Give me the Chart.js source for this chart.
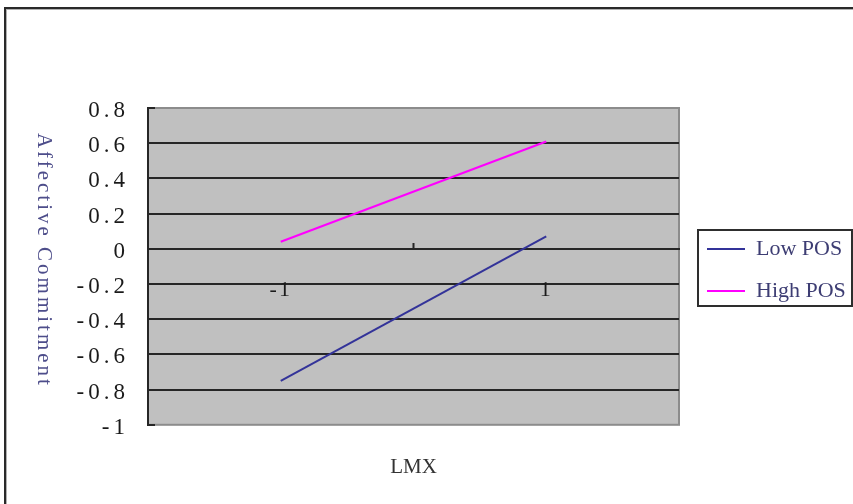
<!DOCTYPE html>
<html>
<head>
<meta charset="utf-8">
<script src="https://cdn.jsdelivr.net/npm/chart.js@4"></script>
<style>
  html, body { margin: 0; padding: 0; background: #ffffff; }
  #wrap { position: relative; width: 853px; height: 504px; overflow: hidden; background: #ffffff; }
  #frame { position: absolute; left: 4px; top: 7px; width: 1000px; height: 1000px;
           border: 2px solid #2a2a2a; box-shadow: inset 1px 1px 0 #b0b0b0; }
  #c { position: absolute; left: 0; top: 0; }
</style>
</head>
<body>
<div id="wrap">
  <div id="frame"></div>
  <canvas id="c" width="853" height="504"></canvas>
</div>
<script>
// ---- data ----
const categories = ['-1', '1'];
const seriesNames = ['Low POS', 'High POS'];
const lowPOS = [-0.75, 0.07];
const highPOS = [0.04, 0.61];
const yTickValues = [-1, -0.8, -0.6, -0.4, -0.2, 0, 0.2, 0.4, 0.6, 0.8];
const yTickLabels = ['-1', '-0.8', '-0.6', '-0.4', '-0.2', '0', '0.2', '0.4', '0.6', '0.8'];
const xTitle = 'LMX';
const yTitle = 'Affective Commitment';

const SERIF = "'Liberation Serif', 'Times New Roman', serif";
const DARK = '#262626';

const layoutPlugin = {
  id: 'excelLook',
  beforeLayout(chart) {
    const lg = chart.legend;
    if (lg && !lg._patched) {
      const fit = lg.fit;
      lg.fit = function () { fit.call(this); this.width = 174; };
      lg._patched = true;
    }
  },
  afterLayout(chart) {
    const lg = chart.legend;
    if (lg) { lg.left = 687; lg.right = lg.left + 166; lg.top = 218; }
    const ys = chart.scales.y, xs = chart.scales.x;
    if (ys && !ys._spaced) {
      const d = ys.drawLabels;
      ys.drawLabels = function (a) { const c = this.ctx; c.save(); c.letterSpacing = '4px'; d.call(this, a); c.restore(); };
      ys._spaced = true;
    }
    if (xs && !xs._spaced) {
      const d = xs.drawLabels;
      xs.drawLabels = function (a) { const c = this.ctx; c.save(); c.letterSpacing = '2px'; d.call(this, a); c.restore(); };
      xs._spaced = true;
    }
  },
  beforeDraw(chart) {
    const {ctx, chartArea: a} = chart;
    ctx.save();
    ctx.fillStyle = '#c0c0c0';
    ctx.fillRect(a.left, a.top, a.right - a.left, a.bottom - a.top);
    ctx.strokeStyle = '#8c8c8c';
    ctx.lineWidth = 2;
    ctx.strokeRect(a.left, a.top, a.right - a.left, a.bottom - a.top);
    ctx.restore();
  },
  afterDraw(chart) {
    const {ctx, chartArea: a} = chart;
    // y axis title (rotated clockwise, reads top to bottom)
    ctx.save();
    ctx.font = '21px ' + SERIF;
    ctx.fillStyle = '#4d4d8a';
    ctx.letterSpacing = '3px';
    ctx.translate(44, (a.top + a.bottom) / 2 - 6);
    ctx.rotate(Math.PI / 2);
    ctx.textAlign = 'center';
    ctx.textBaseline = 'middle';
    ctx.fillText(yTitle, 0, 0);
    ctx.restore();
    // legend frame
    const lg = chart.legend;
    if (lg) {
      ctx.save();
      ctx.strokeStyle = '#2e2e2e';
      ctx.lineWidth = 2;
      ctx.strokeRect(lg.left + 11, lg.top + 12, 154, 76);
      ctx.restore();
    }
  }
};

new Chart(document.getElementById('c'), {
  type: 'line',
  data: {
    labels: categories,
    datasets: [
      { label: seriesNames[0], data: lowPOS, borderColor: '#333399', backgroundColor: '#333399',
        borderWidth: 2, pointRadius: 0, tension: 0, fill: false },
      { label: seriesNames[1], data: highPOS, borderColor: '#ff00ff', backgroundColor: '#ff00ff',
        borderWidth: 2, pointRadius: 0, tension: 0, fill: false }
    ]
  },
  options: {
    responsive: false,
    animation: false,
    layout: { padding: { top: 108, left: 0, right: 0, bottom: 20 } },
    scales: {
      x: {
        type: 'category',
        offset: true,
        position: { y: 0 },
        afterFit(s) { s.height = 0; },
        grid: {
          display: true, drawOnChartArea: false, drawTicks: true, offset: true,
          tickLength: -7, tickWidth: 2,
          tickColor: (c) => (c.index === 1 ? DARK : 'rgba(0,0,0,0)')
        },
        border: { display: true, color: DARK, width: 2 },
        ticks: { padding: 35, maxRotation: 0, autoSkip: false, color: '#1a1a1a',
                 font: { family: SERIF, size: 22 } }
      },
      y: {
        min: -1, max: 0.8,
        afterFit(s) { s.width = 148; },
        afterBuildTicks(s) { s.ticks = yTickValues.map(v => ({ value: v })); },
        grid: {
          color: (c) => (c.tick && (c.tick.value === 0.8 || c.tick.value === -1)) ? 'rgba(0,0,0,0)' : DARK,
          lineWidth: 2, drawTicks: true, tickLength: -7, tickColor: DARK, tickWidth: 2
        },
        border: { display: true, color: DARK, width: 2 },
        ticks: {
          padding: 26, labelOffset: 3, color: '#1a1a1a',
          font: { family: SERIF, size: 23 },
          callback: (v, i) => yTickLabels[i]
        }
      }
    },
    plugins: {
      legend: {
        position: 'right',
        align: 'start',
        labels: {
          usePointStyle: true, pointStyle: 'line', pointStyleWidth: 38,
          padding: 20, color: '#3d3d73',
          font: { family: SERIF, size: 22 }
        }
      },
      title: {
        display: true, text: xTitle, position: 'bottom', fullSize: false,
        color: '#333333', font: { family: SERIF, size: 21, weight: 'normal' },
        padding: { top: 30, bottom: 4 }
      },
      tooltip: { enabled: false }
    }
  },
  plugins: [layoutPlugin]
});
</script>
</body>
</html>
